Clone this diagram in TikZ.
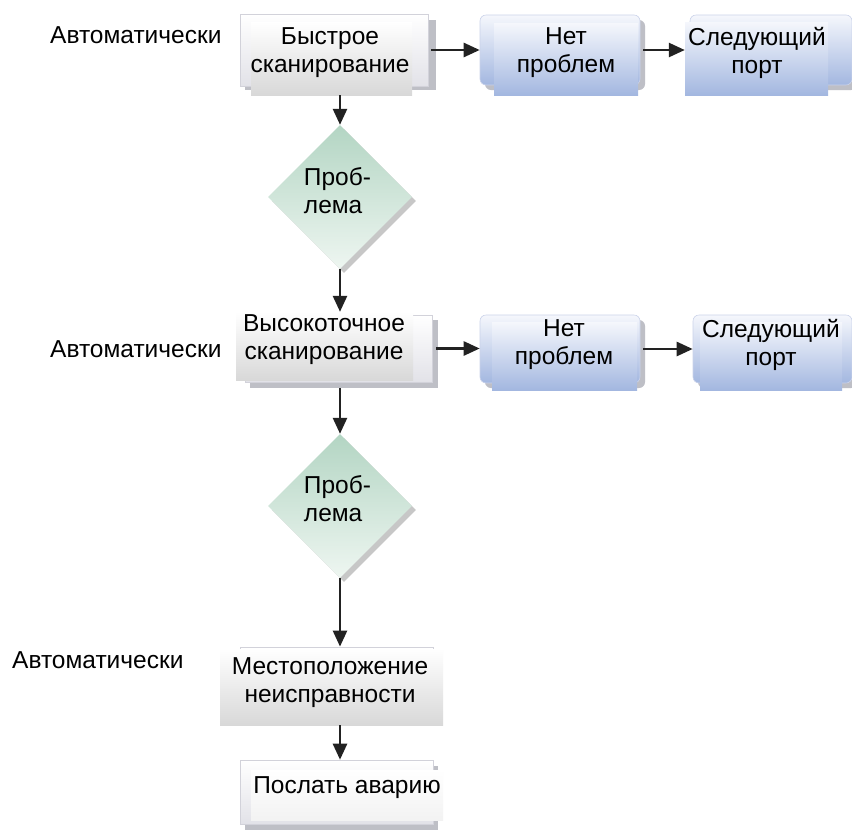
\documentclass[tikz,border=0pt]{standalone}
\usepackage{fontspec}
\setmainfont{Liberation Sans}
\usetikzlibrary{arrows.meta,shapes.geometric,shadows}
\definecolor{shgray}{HTML}{BEBFC6}
\definecolor{gbot}{HTML}{E2E2E8}
\definecolor{gline}{HTML}{D2D2DA}
\definecolor{fbot}{HTML}{D8D8D8}
\definecolor{btop}{HTML}{F5F7FC}
\definecolor{bbot}{HTML}{A3B7E0}
\definecolor{bline}{HTML}{CBD3EA}
\definecolor{dtop}{HTML}{B3D5C3}
\definecolor{dbot}{HTML}{EEF6F1}
\definecolor{arrcol}{HTML}{222222}
\begin{document}
\begin{tikzpicture}[x=1pt,y=-1pt,
  txt/.style={font=\fontsize{24.5}{28}\selectfont, align=center, inner sep=0pt, text=black},
  lbl/.style={font=\fontsize{24.5}{28}\selectfont, inner sep=0pt, anchor=base west},
  shbox/.style={rectangle, fill=shgray, draw=none, inner sep=0pt},
  gout/.style={rectangle, inner sep=0pt, top color=white, bottom color=gbot, draw=gline, line width=0.6pt},
  gfront/.style={rectangle, inner sep=0pt, top color=white, bottom color=fbot, draw=none},
  bout/.style={rectangle, rounded corners=6pt, inner sep=0pt, top color=btop, bottom color=bbot, draw=bline, line width=0.6pt},
  bfront/.style={rectangle, inner sep=0pt, top color=btop, bottom color=bbot, draw=none},
  dia/.style={diamond, aspect=1, inner sep=0pt, minimum width=144pt, minimum height=144pt,
    top color=dtop, bottom color=dbot, draw=none,
    drop shadow={shadow xshift=4pt, shadow yshift=-4pt, fill=black!22, opacity=1}},
  arr/.style={draw=arrcol, line width=2.6pt, -{Triangle[length=16pt,width=14pt]}}]
\useasboundingbox[fill=white] (0,0) rectangle (852,831);

% labels
\node[lbl] (l1) at (50,43) {Автоматически};
\node[lbl] (l2) at (50,357) {Автоматически};
\node[lbl] (l3) at (12,668) {Автоматически};

% box 1
\node[shbox, minimum width=191pt, minimum height=70pt] (b1s) at (340.5,55) {};
\node[gout, minimum width=188pt, minimum height=72pt] (b1o) at (334,50) {};
\node[gfront, minimum width=161pt, minimum height=73pt] (b1f) at (331.5,58.5) {};
\node[txt] (t1) at (330,53) {Быстрое\\сканирование};

% no problem 1
\node[shbox, rounded corners=6pt, minimum width=160pt, minimum height=70pt] (np1s) at (565,55) {};
\node[bout, minimum width=160pt, minimum height=70pt] (np1o) at (560,50) {};
\node[bfront, minimum width=144pt, minimum height=72pt] (np1f) at (566,59) {};
\node[txt] (t2) at (566,53) {Нет\\проблем};

% next port 1
\node[shbox, rounded corners=6pt, minimum width=162pt, minimum height=70pt] (sp1s) at (776,55) {};
\node[bout, minimum width=162pt, minimum height=70pt] (sp1o) at (771,50) {};
\node[bfront, minimum width=143pt, minimum height=73pt] (sp1f) at (756.5,58.5) {};
\node[txt] (t3) at (757,53) {Следующий\\порт};

% diamond 1
\node[dia] (d1) at (340,197) {};
\node[txt, align=left] (t4) at (337.5,190.5) {Проб-\\лема};

% box 2
\node[shbox, minimum width=188pt, minimum height=68pt] (b2s) at (344,354) {};
\node[gout, minimum width=187pt, minimum height=67pt] (b2o) at (338.5,348.5) {};
\node[gfront, minimum width=177pt, minimum height=68pt] (b2f) at (324.5,346) {};
\node[txt] (t5) at (324,340) {Высокоточное\\сканирование};

% no problem 2
\node[shbox, rounded corners=6pt, minimum width=160pt, minimum height=68pt] (np2s) at (565,354) {};
\node[bout, minimum width=160pt, minimum height=68pt] (np2o) at (560,349) {};
\node[bfront, minimum width=145pt, minimum height=68pt] (np2f) at (564.5,356) {};
\node[txt] (t6) at (564,345) {Нет\\проблем};

% next port 2
\node[shbox, rounded corners=6pt, minimum width=159pt, minimum height=68pt] (sp2s) at (777.5,354) {};
\node[bout, minimum width=159pt, minimum height=68pt] (sp2o) at (772.5,349) {};
\node[bfront, minimum width=142pt, minimum height=68pt] (sp2f) at (771,356) {};
\node[txt] (t7) at (771,345) {Следующий\\порт};

% diamond 2
\node[dia] (d2) at (340,506) {};
\node[txt, align=left] (t8) at (337.5,498.5) {Проб-\\лема};

% box 3
\node[rectangle, inner sep=0pt, draw=gline, line width=0.8pt, minimum width=193pt, minimum height=70pt] (b3o) at (336.5,682) {};
\node[gfront, minimum width=223pt, minimum height=76pt] (b3) at (331.5,687) {};
\node[txt] (t9) at (330,683) {Местоположение\\неисправности};

% box 4
\node[shbox, minimum width=193pt, minimum height=64pt] (b4s) at (341.5,798) {};
\node[gout, minimum width=193pt, minimum height=64pt] (b4o) at (336.5,792) {};
\node[rectangle, inner sep=0pt, top color=white, bottom color=black!5, minimum width=192pt, minimum height=50pt] (b4f) at (347,795) {};
\node[txt, anchor=base] (t10) at (347,793) {Послать аварию};

% arrows
\draw[arr] ([xshift=3pt]b1o.east) -- (b1o.east -| np1o.west);
\draw[arr] ([xshift=3pt]np1o.east) -- (np1o.east -| sp1f.west);
\draw[arr] (b1f.south -| d1.north) -- (d1.north);
\draw[arr] (d1.south) -- (d1.south |- b2f.north);
\draw[arr] ([xshift=4pt]b2o.east) -- (b2o.east -| np2o.west);
\draw[arr] ([xshift=3pt]np2o.east) -- (np2o.east -| sp2o.west);
\draw[arr] (b2s.south -| d2.north) -- (d2.north);
\draw[arr] (d2.south) -- (d2.south |- b3o.north);
\draw[arr] (b3.south -| d2.south) -- (d2.south |- b4o.north);
\end{tikzpicture}
\end{document}
